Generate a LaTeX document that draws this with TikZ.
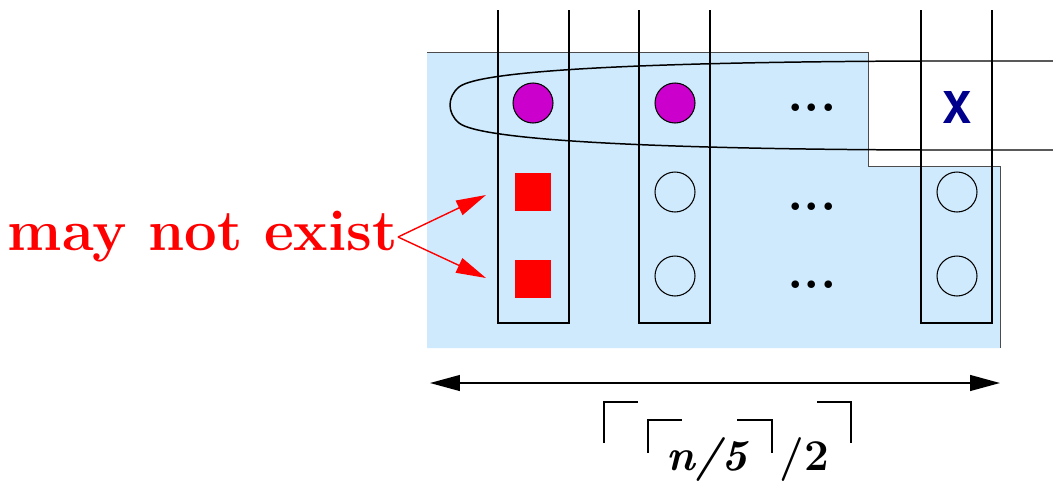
\documentclass[tikz,border=0pt]{standalone}
\usepackage{fontspec}
\newfontfamily\heros{TeX Gyre Heros}
\usetikzlibrary{arrows.meta, positioning}
\definecolor{paleblue}{RGB}{206,234,252}
\definecolor{dotmag}{RGB}{204,0,204}
\definecolor{xnavy}{RGB}{0,0,140}

\begin{document}
\begin{tikzpicture}[
    x=0.02cm, y=-0.02cm,
    slot/.style={draw, line width=0.6pt, circle, minimum size=0.8cm, inner sep=0pt},
    hit/.style={slot, fill=dotmag},
    miss/.style={fill=red, minimum width=0.72cm, minimum height=0.76cm, inner sep=0pt},
    dots/.style={font=\fontsize{30}{30}\selectfont\bfseries, anchor=base, inner sep=0pt},
    col/.style={line width=0.85pt},
    tip/.style={-{Triangle[length=17pt, width=9pt]}},
    ceil/.style={line width=0.8pt},
    big/.style={font=\fontsize{25}{25}\selectfont\bfseries, anchor=base, inner sep=0pt},
]
\useasboundingbox (0,0) rectangle (1053,480);

% Shaded region with notch
\fill[paleblue] (427,52) -- (868,52) -- (868,166) -- (1000,166) -- (1000,348) -- (427,348) -- cycle;
\draw[line width=0.5pt, black!70] (427,52) -- (868,52) -- (868,166) -- (1000,166) -- (1000,348);

% Long loop round the top row
\draw[col] (1060,61) -- (922,61) .. controls (650,62) and (480,70) .. (459,87)
    .. controls (447,97) and (447,113) .. (459,123)
    .. controls (480,140) and (650,149) .. (922,150) -- (1060,150);

% Columns
\foreach \x in {498,639,921}
    \draw[col] (\x,10) -- (\x,323) -- (\x+71,323) -- (\x+71,10);

% Top row
\node[hit] (h1) at (533,103) {};
\node[hit] (h2) at (675,103) {};
\node[dots] (d1) at (812,111) {...};
\node[font=\heros\fontsize{25}{25}\selectfont\bfseries, text=xnavy] (xx) at (957,107) {X};

% Lower rows
\node[miss] (m1) at (533,192) {};
\node[miss] (m2) at (533,279) {};
\node[slot] (c1) at (675,192) {};
\node[slot] (c2) at (675,276) {};
\node[dots] (d2) at (812,210) {...};
\node[dots] (d3) at (812,288) {...};
\node[slot] (c3) at (957,192) {};
\node[slot] (c4) at (957,276) {};

% Label and arrows
\node[font=\fontsize{33}{33}\selectfont\bfseries, text=red, anchor=east, inner sep=0pt] (mne) at (398,237) {may not exist};
\coordinate (p1) at (486,195);
\coordinate (p2) at (486,278);
\draw[tip, red, line width=0.8pt] (mne.east) -- (p1);
\draw[tip, red, line width=0.8pt] (mne.east) -- (p2);

% Width arrow
\coordinate (la) at (430,383);
\coordinate (ra) at (1000,383);
\draw[{Triangle[length=17pt, width=9pt]}-{Triangle[length=17pt, width=9pt]}, line width=0.9pt] (la) -- (ra);

% Ceiling label
\node[big] (nf) at (708,470) {\textit{n/5}};
\node[big] (tw) at (804,470) {/2};
\draw[ceil] (604,443) -- (604,402) -- (638,402);
\draw[ceil] (648,453) -- (648,420) -- (682,420);
\draw[ceil] (737,420) -- (772,420) -- (772,453);
\draw[ceil] (817,402) -- (851,402) -- (851,443);
\end{tikzpicture}
\end{document}
